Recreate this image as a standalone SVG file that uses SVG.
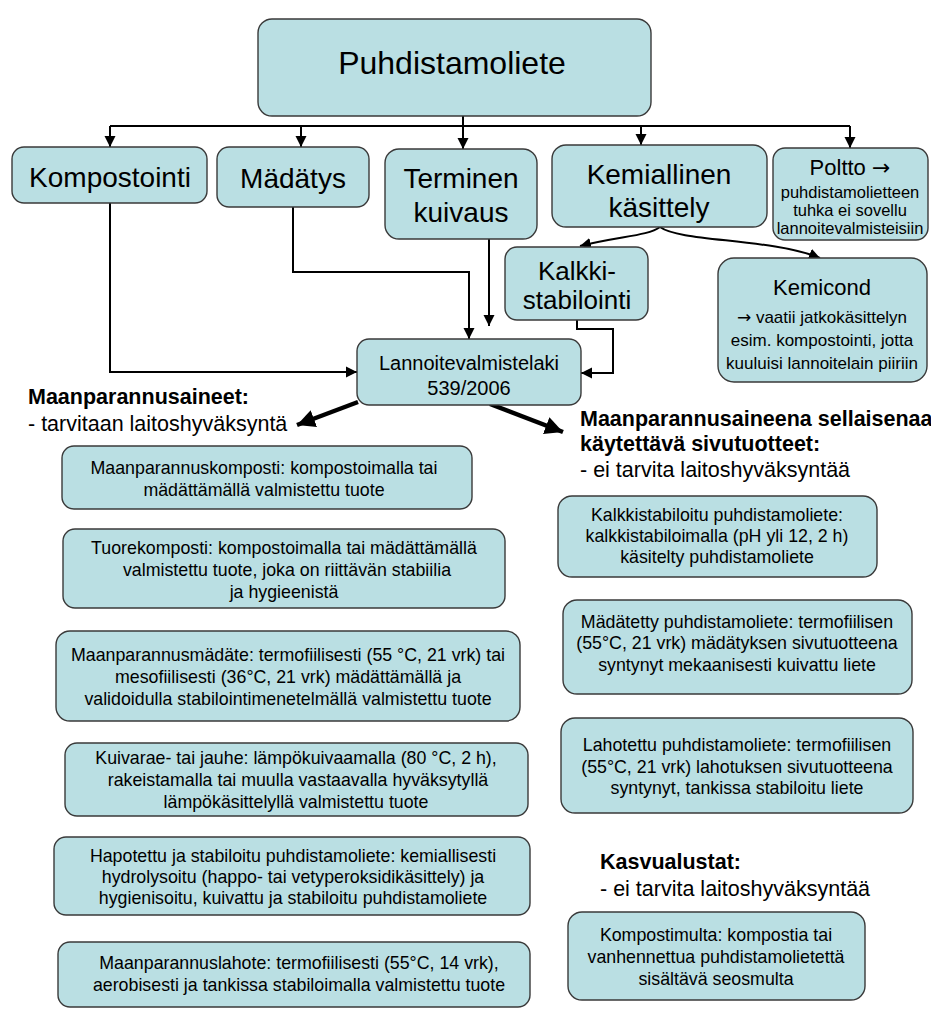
<svg xmlns="http://www.w3.org/2000/svg" width="931" height="1020" viewBox="0 0 931 1020">
<defs>
<style>
.box{fill:#badfe3;stroke:#3a3a3a;stroke-width:1.4}
text{font-family:"Liberation Sans",Arial,sans-serif;fill:#000}
.c{text-anchor:middle}
.ar{font-family:"DejaVu Sans",sans-serif}
.t32{font-size:32px}
.t28{font-size:28px}
.t26{font-size:26px}
.t22{font-size:22px}
.t20{font-size:20px}
.t17{font-size:17px}
.t165{font-size:16.5px}
.s{font-size:17.8px}
.h{font-size:21.5px}
.b{font-weight:bold}
.ln{fill:none;stroke:#000;stroke-width:2}
.thick{fill:none;stroke:#000;stroke-width:4.5}
</style>
<marker id="ah" markerUnits="userSpaceOnUse" markerWidth="12" markerHeight="12" refX="11" refY="6" orient="auto">
<path d="M0,0.5 L11,6 L0,11.5 z" fill="#000"/>
</marker>
<marker id="ahb" markerUnits="userSpaceOnUse" markerWidth="20" markerHeight="18" refX="18" refY="9" orient="auto">
<path d="M0,0 L18,9 L0,18 z" fill="#000"/>
</marker>
</defs>
<rect width="931" height="1020" fill="#fff"/>

<g id="connectors">
<path class="ln" d="M463,116 V126 M110,126 H850"/>
<path class="ln" d="M110,126 V147" marker-end="url(#ah)"/>
<path class="ln" d="M301,126 V147" marker-end="url(#ah)"/>
<path class="ln" d="M463,126 V149" marker-end="url(#ah)"/>
<path class="ln" d="M641,126 V145" marker-end="url(#ah)"/>
<path class="ln" d="M850,126 V148" marker-end="url(#ah)"/>
<path class="ln" d="M110,203 V372 H357" marker-end="url(#ah)"/>
<path class="ln" d="M293,207 V272 H469 V339" marker-end="url(#ah)"/>
<path class="ln" d="M489,239 V326" marker-end="url(#ah)"/>
<path class="ln" d="M577,320 V329 H613 V373 H581" marker-end="url(#ah)"/>
<path class="ln" d="M660,227 C648,236 620,236 580,246" marker-end="url(#ah)"/>
<path class="ln" d="M660,227 C680,242 770,238 820,258" marker-end="url(#ah)"/>
<path class="thick" d="M358,402 L297,425" marker-end="url(#ahb)"/>
<path class="thick" d="M490,404 L563,432" marker-end="url(#ahb)"/>
</g>

<g id="puhdistamoliete">
<rect class="box" x="258" y="19" width="393" height="97" rx="14"/>
<text class="c t32" x="452" y="74">Puhdistamoliete</text>
</g>
<g id="kompostointi">
<rect class="box" x="12" y="147" width="195" height="56" rx="12"/>
<text class="c t28" x="110" y="187">Kompostointi</text>
</g>
<g id="madatys">
<rect class="box" x="217" y="147" width="152" height="60" rx="12"/>
<text class="c t28" x="293" y="188">Mädätys</text>
</g>
<g id="terminen">
<rect class="box" x="385" y="149" width="152" height="90" rx="14"/>
<text class="c t28" x="461" y="188">Terminen</text>
<text class="c t28" x="461" y="222">kuivaus</text>
</g>
<g id="kemiallinen">
<rect class="box" x="552" y="145" width="215" height="82" rx="14"/>
<text class="c t28" x="659" y="184">Kemiallinen</text>
<text class="c t28" x="659" y="217">käsittely</text>
</g>
<g id="poltto">
<rect class="box" x="773" y="148" width="155" height="92" rx="12"/>
<text class="c t22" x="850" y="175">Poltto <tspan class="ar">→</tspan></text>
<text class="c t165" x="850" y="198">puhdistamolietteen</text>
<text class="c t165" x="850" y="216">tuhka ei sovellu</text>
<text class="c t165" x="850" y="234">lannoitevalmisteisiin</text>
</g>
<g id="kalkki">
<rect class="box" x="505" y="247" width="143" height="73" rx="12"/>
<text class="c t26" x="577" y="280">Kalkki-</text>
<text class="c t26" x="577" y="309">stabilointi</text>
</g>
<g id="kemicond">
<rect class="box" x="718" y="258" width="209" height="124" rx="16"/>
<text class="c t22" x="822" y="295">Kemicond</text>
<text class="c t17" x="822" y="323"><tspan class="ar">→</tspan> vaatii jatkokäsittelyn</text>
<text class="c t17" x="822" y="346">esim. kompostointi, jotta</text>
<text class="c t17" x="822" y="369">kuuluisi lannoitelain piiriin</text>
</g>
<g id="lannoite">
<rect class="box" x="357" y="339" width="224" height="66" rx="12"/>
<text class="c t20" x="469" y="370">Lannoitevalmistelaki</text>
<text class="c t20" x="469" y="395">539/2006</text>
</g>

<g id="header-left">
<text class="h b" x="28" y="404">Maanparannusaineet:</text>
<text class="h" x="28" y="431">- tarvitaan laitoshyväksyntä</text>
</g>
<g id="header-right">
<text class="h b" x="580" y="426">Maanparannusaineena sellaisenaa</text>
<text class="h b" x="580" y="451">käytettävä sivutuotteet:</text>
<text class="h" x="580" y="477">- ei tarvita laitoshyväksyntää</text>
</g>
<g id="header-kasvu">
<text class="h b" x="600" y="869">Kasvualustat:</text>
<text class="h" x="600" y="896">- ei tarvita laitoshyväksyntää</text>
</g>

<g id="maanparannuskomposti">
<rect class="box" x="62" y="446" width="410" height="63" rx="12"/>
<text class="c s" x="264" y="474">Maanparannuskomposti: kompostoimalla tai</text>
<text class="c s" x="264" y="496">mädättämällä valmistettu tuote</text>
</g>
<g id="tuorekomposti">
<rect class="box" x="63" y="529" width="442" height="79" rx="12"/>
<text class="c s" x="284" y="554">Tuorekomposti: kompostoimalla tai mädättämällä</text>
<text class="c s" x="287" y="576">valmistettu tuote, joka on riittävän stabiilia</text>
<text class="c s" x="284" y="598">ja hygieenistä</text>
</g>
<g id="maanparannusmadate">
<rect class="box" x="56" y="631" width="464" height="90" rx="14"/>
<text class="c s" x="288" y="661">Maanparannusmädäte: termofiilisesti (55 °C, 21 vrk) tai</text>
<text class="c s" x="288" y="683">mesofiilisesti (36°C, 21 vrk) mädättämällä ja</text>
<text class="c s" x="288" y="705">validoidulla stabilointimenetelmällä valmistettu tuote</text>
</g>
<g id="kuivarae">
<rect class="box" x="65" y="743" width="463" height="73" rx="12"/>
<text class="c s" x="296" y="764">Kuivarae- tai jauhe: lämpökuivaamalla (80 °C, 2 h),</text>
<text class="c s" x="298" y="786">rakeistamalla tai muulla vastaavalla hyväksytyllä</text>
<text class="c s" x="296" y="808">lämpökäsittelyllä valmistettu tuote</text>
</g>
<g id="hapotettu">
<rect class="box" x="54" y="837" width="476" height="78" rx="12"/>
<text class="c s" x="293" y="862">Hapotettu ja stabiloitu puhdistamoliete: kemiallisesti</text>
<text class="c s" x="293" y="883">hydrolysoitu (happo- tai vetyperoksidikäsittely) ja</text>
<text class="c s" x="293" y="904">hygienisoitu, kuivattu ja stabiloitu puhdistamoliete</text>
</g>
<g id="maanparannuslahote">
<rect class="box" x="58" y="942" width="472" height="65" rx="12"/>
<text class="c s" x="299" y="969">Maanparannuslahote: termofiilisesti (55°C, 14 vrk),</text>
<text class="c s" x="299" y="991">aerobisesti ja tankissa stabiloimalla valmistettu tuote</text>
</g>

<g id="kalkkistabiloitu">
<rect class="box" x="558" y="496" width="319" height="81" rx="14"/>
<text class="c s" x="717" y="521">Kalkkistabiloitu puhdistamoliete:</text>
<text class="c s" x="717" y="542">kalkkistabiloimalla (pH yli 12, 2 h)</text>
<text class="c s" x="717" y="563">käsitelty puhdistamoliete</text>
</g>
<g id="madatetty">
<rect class="box" x="563" y="600" width="349" height="94" rx="14"/>
<text class="c s" x="737" y="628">Mädätetty puhdistamoliete: termofiilisen</text>
<text class="c s" x="737" y="649">(55°C, 21 vrk) mädätyksen sivutuotteena</text>
<text class="c s" x="737" y="671">syntynyt mekaanisesti kuivattu liete</text>
</g>
<g id="lahotettu">
<rect class="box" x="561" y="718" width="352" height="95" rx="14"/>
<text class="c s" x="737" y="751">Lahotettu puhdistamoliete: termofiilisen</text>
<text class="c s" x="737" y="773">(55°C, 21 vrk) lahotuksen sivutuotteena</text>
<text class="c s" x="737" y="794">syntynyt, tankissa stabiloitu liete</text>
</g>
<g id="kompostimulta">
<rect class="box" x="568" y="912" width="297" height="88" rx="14"/>
<text class="c s" x="716" y="941">Kompostimulta: kompostia tai</text>
<text class="c s" x="716" y="963">vanhennettua puhdistamolietettä</text>
<text class="c s" x="716" y="985">sisältävä seosmulta</text>
</g>
</svg>
